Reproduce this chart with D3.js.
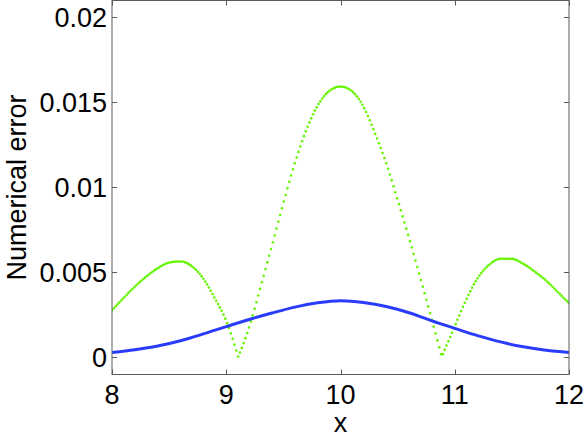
<!DOCTYPE html>
<html><head><meta charset="utf-8">
<script src="https://cdn.jsdelivr.net/npm/d3@7"></script>
<style>
html,body{margin:0;padding:0;background:#fff;}
svg{display:block;}
text{font-family:"Liberation Sans",Arial,Helvetica,sans-serif;fill:#000;}
</style></head>
<body>
<svg id="chart" width="584" height="439"></svg>
<script>
// ---- data ----
const xTicks = [8, 9, 10, 11, 12];
const yTicks = [0, 0.005, 0.01, 0.015, 0.02];
const yTickLabels = ["0", "0.005", "0.01", "0.015", "0.02"];

const blueX = [8.0, 8.2, 8.4, 8.6, 8.8, 9.0, 9.2, 9.4, 9.6, 9.8, 10.0, 10.2, 10.4, 10.6, 10.8, 11.0, 11.2, 11.4, 11.6, 11.8, 12.0];
const blueY = [0.00026, 0.00042, 0.00064, 0.00095, 0.00135, 0.00178, 0.00220, 0.00258, 0.00293, 0.00318, 0.00330, 0.00320, 0.00297, 0.00260, 0.00212, 0.00168, 0.00125, 0.00088, 0.00059, 0.00039, 0.00026];

const greenX = [8.0, 8.1, 8.2, 8.3, 8.4, 8.5, 8.6, 8.7, 8.8, 8.9, 9.0, 9.105,
  9.2, 9.3, 9.4, 9.5, 9.6, 9.7, 9.8, 9.9, 10.0, 10.1, 10.2, 10.3, 10.4, 10.5, 10.6, 10.7, 10.8, 10.886,
  11.0, 11.1, 11.2, 11.3, 11.4, 11.5, 11.6, 11.7, 11.8, 11.9, 12.0];
const greenY = [0.00275, 0.00346, 0.00414, 0.00473, 0.00522, 0.00555, 0.00562, 0.00533, 0.00460, 0.00345, 0.00212, 0,
  0.00173, 0.00410, 0.00655, 0.00905, 0.01140, 0.01335, 0.01480, 0.01565, 0.01592, 0.01565, 0.01475, 0.01320, 0.01140, 0.00925, 0.00700, 0.00462, 0.00218, 0,
  0.00180, 0.00336, 0.00463, 0.00542, 0.00578, 0.00577, 0.00548, 0.00502, 0.00449, 0.00383, 0.00316];
const greenSampleStep = 0.016;

// ---- layout ----
const L = 112, R = 569, T = 0.5, B = 374.5;
const svg = d3.select("#chart");
const x = d3.scaleLinear().domain([8, 12]).range([L, R]);
const y = d3.scaleLinear().domain([-0.00104, 0.02099]).range([B, T]);

const plot = svg.append("g");
svg.append("defs").append("clipPath").attr("id","clip")
  .append("rect").attr("x", L).attr("y", T).attr("width", R - L).attr("height", B - T);
plot.attr("clip-path", "url(#clip)");

// green dotted series: segments split at zeros
const gpts = greenX.map((v, i) => [v, greenY[i]]);
const segs = [];
let cur = [];
gpts.forEach((p, i) => {
  cur.push(p);
  if (p[1] === 0 && i > 0 && i < gpts.length - 1) { segs.push(cur); cur = [p]; }
});
segs.push(cur);
const line = d3.line().x(d => x(d[0])).y(d => y(d[1])).curve(d3.curveMonotoneX);
const hidden = svg.append("g").attr("visibility", "hidden");
const segPaths = segs.map(s => {
  const p = hidden.append("path").attr("d", line(s)).node();
  return {x0: s[0][0], x1: s[s.length - 1][0], node: p, len: p.getTotalLength()};
});
function pointAt(xv) {
  const sp = segPaths.find(s => xv >= s.x0 - 1e-9 && xv <= s.x1 + 1e-9) || segPaths[segPaths.length - 1];
  const target = x(xv);
  let lo = 0, hi = sp.len;
  for (let k = 0; k < 40; k++) {
    const mid = (lo + hi) / 2;
    if (sp.node.getPointAtLength(mid).x < target) lo = mid; else hi = mid;
  }
  return sp.node.getPointAtLength((lo + hi) / 2);
}
const nS = Math.round((12 - 8) / greenSampleStep);
const dots = d3.range(nS + 1).map(i => pointAt(8 + i * greenSampleStep));
plot.append("g").selectAll("circle").data(dots).join("circle")
  .attr("cx", d => d.x).attr("cy", d => d.y).attr("r", 1.3)
  .attr("fill", "#66f500");

// blue solid series
plot.append("path")
  .attr("d", d3.line().x((d, i) => x(blueX[i])).y(d => y(d)).curve(d3.curveMonotoneX)(blueY))
  .attr("fill", "none").attr("stroke", "#2a3cfb").attr("stroke-width", 3);

// ---- axes (MATLAB style box, inward ticks) ----
const ax = svg.append("g").attr("stroke", "#5a5a5a").attr("stroke-width", 1).attr("fill", "none");
ax.append("rect").attr("x", L).attr("y", T).attr("width", R - L).attr("height", B - T);
const tl = 5;
xTicks.forEach(t => {
  const px = Math.round(x(t)) + 0.5;
  ax.append("line").attr("x1", px).attr("x2", px).attr("y1", B).attr("y2", B - tl);
  ax.append("line").attr("x1", px).attr("x2", px).attr("y1", T).attr("y2", T + tl);
});
yTicks.forEach(t => {
  const py = Math.round(y(t)) + 0.5;
  ax.append("line").attr("x1", L).attr("x2", L + tl).attr("y1", py).attr("y2", py);
  ax.append("line").attr("x1", R).attr("x2", R - tl).attr("y1", py).attr("y2", py);
});

const fs = 27;
svg.append("g").selectAll("text").data(xTicks).join("text")
  .attr("x", d => x(d)).attr("y", 404).attr("text-anchor", "middle")
  .attr("font-size", fs).text(d => d);
svg.append("g").selectAll("text").data(yTicks).join("text")
  .attr("x", 107).attr("y", d => y(d)).attr("dy", "0.36em").attr("text-anchor", "end")
  .attr("font-size", fs).text((d, i) => yTickLabels[i]);

svg.append("text").attr("x", (L + R) / 2).attr("y", 432).attr("text-anchor", "middle")
  .attr("font-size", fs).text("x");
svg.append("text").attr("transform", `translate(26,${(T + B) / 2}) rotate(-90)`)
  .attr("text-anchor", "middle").attr("font-size", fs).text("Numerical error");
</script>
</body></html>
